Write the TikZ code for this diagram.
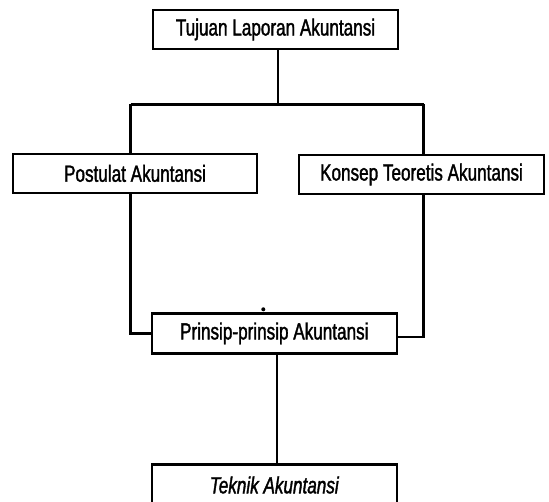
\documentclass[tikz,border=0pt]{standalone}
\usepackage{fontspec}
\setmainfont{Liberation Sans}[FakeStretch=0.735, FakeBold=1.5]
\usetikzlibrary{positioning}

\begin{document}
\begin{tikzpicture}[
            x=1pt, y=-1pt,
            box/.style={draw, line width=2.3pt, minimum width=245pt, minimum height=39pt, align=center, inner sep=0pt, font=\fontsize{23.3}{26}\selectfont},
            link/.style={line width=2.3pt}
        ]
        \useasboundingbox (0,0) rectangle (549,502);
        \node[box] (tujuan) at (275.5,29.5) {Tujuan Laporan Akuntansi};
        \node[box, minimum width=244pt] (postulat) at (135,173.4) {Postulat Akuntansi};
        \node[box] (konsep) at (421.5,174.5) {Konsep Teoretis Akuntansi};
        \node[box, minimum height=40pt] (prinsip) at (274.3,333.4) {Prinsip-prinsip Akuntansi};
        \node[box, minimum height=41pt, font=\fontsize{23.3}{26}\selectfont\itshape] (teknik) at (274.3,485) {Teknik Akuntansi};

        \coordinate (pisah) at (278.3,104.5);
        \coordinate (kiri) at (130.5,104.5);
        \coordinate (kanan) at (423.5,104.5);

        \draw[link] (tujuan.south -| pisah) -- (pisah);
        \draw[link] (kiri) -- (kanan);
        \draw[link] (kiri) -- (kiri |- postulat.north);
        \draw[link] (kanan) -- (kanan |- konsep.north);
        \draw[link] (kiri |- postulat.south) |- (prinsip.west);
        \draw[link] (kanan |- konsep.south) |- ([yshift=-3.6pt]prinsip.east);
        \draw[link] ([xshift=3pt]prinsip.south) -- ([xshift=3pt]prinsip.south |- teknik.north);
        \fill (263.3,309.3) circle (2);
    \end{tikzpicture}
\end{document}
